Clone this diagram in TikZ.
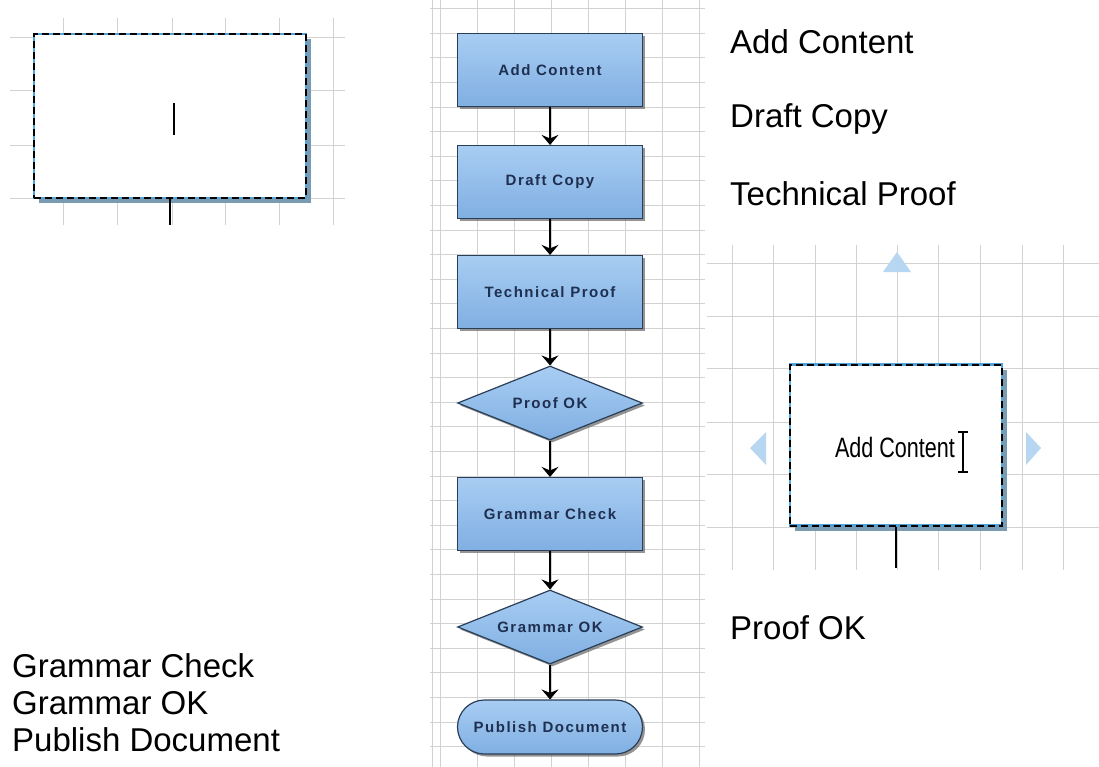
\documentclass[tikz,border=0pt]{standalone}
\usepackage{fontspec}
\setmainfont{Liberation Sans}
\newfontfamily\flowfont[LetterSpace=10]{Liberation Sans}
\usepackage{tikz}
\usetikzlibrary{shapes.geometric, shapes.misc, arrows.meta, shadows}
\definecolor{flowtop}{HTML}{A8CDF3}
\definecolor{flowbot}{HTML}{80AFE2}
\definecolor{flowedge}{HTML}{2A3E57}
\definecolor{flowtext}{HTML}{1F2F50}
\definecolor{gridgray}{HTML}{D2D2D2}
\definecolor{selblue}{HTML}{4FA3D9}
\definecolor{shadowblue}{HTML}{7A9CB3}
\definecolor{handleblue}{HTML}{B6D6F1}
\tikzstyle{pbox} = [rectangle, draw=flowedge, line width=1.2pt, top color=flowtop, bottom color=flowbot, minimum width=185pt, minimum height=73pt, inner sep=0pt, font=\flowfont\bfseries\fontsize{15}{17}\selectfont, text=flowtext, drop shadow={shadow xshift=2.5pt, shadow yshift=-2.5pt, fill=black!60, opacity=0.7}]
\tikzstyle{dbox} = [pbox, diamond, aspect=2.5, minimum width=185pt, minimum height=74pt]
\tikzstyle{tbox} = [pbox, rounded rectangle, minimum height=54pt]
\tikzstyle{line} = [draw, line width=1.2pt, -{Stealth[length=10pt, width=17pt, inset=3.5pt]}]
\tikzstyle{selbox} = [rectangle, fill=white, draw=selblue, line width=2.4pt, drop shadow={shadow xshift=5pt, shadow yshift=-5pt, fill=shadowblue, opacity=1}, postaction={draw=black, dash pattern=on 7pt off 4pt, line width=2pt}]
\tikzstyle{stub} = [draw, line width=1.8pt]
\tikzstyle{gridline} = [draw=gridgray, line width=0.8pt]
\tikzstyle{bigtext} = [anchor=west, inner sep=0pt, font=\fontsize{33}{37}\selectfont]
\tikzstyle{handle} = [fill=handleblue]

\begin{document}
\begin{tikzpicture}[x=1pt, y=-1pt]
			\useasboundingbox (0,0) rectangle (1099,767);
			% grids
			\foreach \x in {63,117,172,225,279,333} \draw[gridline] (\x,18) -- (\x,225);
			\foreach \y in {37,90,145,198} \draw[gridline] (10,\y) -- (345,\y);
			\foreach \x in {432,440,477,514,551,588,625,662,699} \draw[gridline] (\x,0) -- (\x,767);
			\foreach \k in {0,...,30} \draw[gridline] (430,8.6+24.6*\k) -- (705,8.6+24.6*\k);
			\foreach \x in {732,773,815,856,897,938,980,1022,1063} \draw[gridline] (\x,245) -- (\x,570);
			\foreach \y in {263,316,368,422,474,527} \draw[gridline] (707,\y) -- (1099,\y);

			% selected shape, left
			\node [selbox, minimum width=272pt, minimum height=164pt] (lsel) at (170,116) {};
			\coordinate (lstub) at (170,225);
			\path [stub] (lsel.south) -- (lstub);
			\draw [line width=1.8pt] (174,103) -- (174,135);

			% flowchart
			\node [pbox] (add) at (550,70) {Add Content};
			\node [pbox] (draft) at (550,182) {Draft Copy};
			\node [pbox] (tech) at (550,292) {Technical Proof};
			\node [dbox] (proof) at (550,403) {Proof OK};
			\node [pbox] (gcheck) at (550,514) {Grammar Check};
			\node [dbox] (gok) at (550,627) {Grammar OK};
			\node [tbox] (publish) at (550,727) {Publish Document};

			\path [line] (add) -- (draft);
			\path [line] (draft) -- (tech);
			\path [line] (tech) -- (proof);
			\path [line] (proof) -- (gcheck);
			\path [line] (gcheck) -- (gok);
			\path [line] (gok) -- (publish);

			% step list
			\node [bigtext] (s1) at (730,42) {Add Content};
			\node [bigtext] (s2) at (730,119) {Draft Copy};
			\node [bigtext] (s3) at (730,194) {Technical Proof};
			\node [bigtext] (s4) at (730,628) {Proof OK};
			\node [bigtext] (s5) at (12,666) {Grammar Check};
			\node [bigtext] (s6) at (12,703) {Grammar OK};
			\node [bigtext] (s7) at (12,740) {Publish Document};

			% selected shape, right
			\fill [handle] (897,252) -- (911,272) -- (883,272) -- cycle;
			\fill [handle] (750,448) -- (766,432) -- (766,465) -- cycle;
			\fill [handle] (1041,448) -- (1026,432) -- (1026,465) -- cycle;
			\node [selbox, minimum width=212pt, minimum height=161pt] (rsel) at (896,445) {};
			\node [inner sep=0pt, xscale=0.77, font=\fontsize{28}{30}\selectfont] (rtext) at (895,447) {Add Content};
			\draw [line width=1.3pt] (963,432) -- (963,472) (958,432) -- (968,432) (958,472) -- (968,472);
			\coordinate (rstub) at (896,568);
			\path [stub] (rsel.south) -- (rstub);
		\end{tikzpicture}
\end{document}
